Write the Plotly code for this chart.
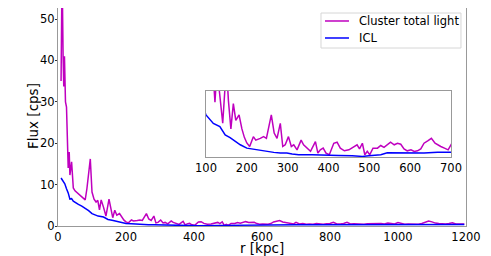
import plotly.graph_objects as go

# Cluster total light (magenta)
r_total = [9, 12, 15, 17, 19, 22, 25, 27, 30, 33, 35, 40, 45, 50, 60, 70, 80, 85, 90, 95,
           100, 106, 112, 117, 122, 127, 134, 141, 150, 155, 161, 167, 173, 181, 188, 194,
           200, 207, 216, 222, 233, 241, 248, 260, 267, 274, 282, 288, 294, 302, 309, 315,
           323, 333, 339, 348, 356, 368, 374, 380, 387, 394, 402, 413, 421, 429, 439, 450,
           462, 470, 476, 483, 489, 495, 501, 509, 520, 528, 536, 544, 552, 561, 569, 577,
           585, 593, 602, 610, 618, 626, 634, 643, 652, 661, 667, 675, 684, 693, 700,
           710, 720, 730, 740, 750, 760, 770, 780, 790, 800, 810, 820, 830, 840, 850, 860,
           870, 880, 890, 900, 910, 920, 930, 940, 950, 960, 970, 980, 990, 1000, 1010,
           1020, 1030, 1040, 1050, 1060, 1070, 1080, 1090, 1100, 1110, 1120, 1130, 1140,
           1150, 1160, 1170, 1180, 1195]
f_total = [35, 62, 41, 33.7, 41, 30, 28.7, 20.5, 14, 17.9, 12.3, 15.5, 9.2, 8.5, 7.8, 7.0, 6.3, 9, 13.5, 16.2,
           8.2, 6.5, 5.8, 6.2, 3.9, 6.3, 4.5, 2.4, 6.5, 4.0, 2.0, 3.8, 2.6, 3.0, 2.0, 1.4,
           1.0, 0.75, 1.45, 1.2, 1.33, 1.45, 1.33, 3.0, 1.7, 1.33, 2.4, 0.75, 0.87, 1.45, 0.75, 0.87,
           0.51, 1.2, 0.87, 0.63, 0.4, 1.1, 0.28, 0.51, 0.63, 0.28, 0.16, 0.98, 1.05, 0.63, 0.44, 0.51,
           0.75, 0.87, 0.58, 0.98, 0.16, 0.4, 0.16, 0.63, 0.63, 0.82, 0.68, 0.87, 1.05, 0.87, 0.98, 0.91,
           0.58, 0.44, 0.51, 0.4, 0.44, 0.58, 0.98, 1.15, 1.33, 0.98, 0.87, 0.75, 0.63, 0.51, 0.87,
           0.5, 0.6, 0.4, 0.5, 0.45, 0.6, 0.5, 0.4, 0.55, 0.6, 0.9, 0.5, 0.5, 0.6, 0.9, 0.5,
           0.55, 0.5, 0.6, 0.45, 0.55, 0.6, 0.5, 0.55, 0.6, 0.5, 0.7, 0.6, 0.5, 0.85, 0.6,
           0.45, 0.5, 0.5, 0.4, 0.45, 0.6, 1.0, 1.2, 1.0, 0.7, 0.6, 0.5, 0.5,
           0.6, 0.8, 0.5, 0.45, 0.5]

# ICL (blue)
r_icl = [9, 15, 20, 25, 30, 35, 40, 45, 50, 60, 70, 80, 90, 100, 118, 134, 147, 159, 171, 184,
         200, 216, 233, 249, 266, 282, 298, 311, 327, 360, 393, 409, 425, 458, 483, 499, 511,
         528, 544, 569, 602, 634, 667, 700, 750, 800, 850, 900, 950, 1000, 1050, 1100, 1150, 1195]
f_icl = [11.6, 10.8, 10.2, 9.0, 8.0, 6.5, 6.6, 6.0, 5.7, 5.2, 4.8, 4.3, 3.7, 3.0, 2.39, 2.16, 1.57, 1.38, 1.15, 0.87,
         0.63, 0.56, 0.44, 0.4, 0.33, 0.28, 0.28, 0.21, 0.16, 0.16, 0.11, 0.09, 0.11, 0.09, 0.04, 0.09, 0.14,
         0.16, 0.30, 0.30, 0.26, 0.28, 0.33, 0.33, 0.32, 0.33, 0.32, 0.33, 0.34, 0.33, 0.34, 0.35, 0.34, 0.35]

main_xticks = [0, 200, 400, 600, 800, 1000, 1200]
main_yticks = [0, 10, 20, 30, 40, 50]
inset_xticks = [100, 200, 300, 400, 500, 600, 700]
legend_labels = ["Cluster total light", "ICL"]

MAG = "#bf00bf"
BLUE = "#0000ff"
FONT = "DejaVu Sans"

fig = go.Figure()
fig.add_trace(go.Scatter(x=r_total, y=f_total, mode="lines", name=legend_labels[0],
                         line=dict(color=MAG, width=1.5), showlegend=False))
fig.add_trace(go.Scatter(x=r_icl, y=f_icl, mode="lines", name=legend_labels[1],
                         line=dict(color=BLUE, width=1.5), showlegend=False))
fig.add_trace(go.Scatter(x=r_total, y=f_total, mode="lines", showlegend=False,
                         line=dict(color=MAG, width=1.5), xaxis="x2", yaxis="y2"))
fig.add_trace(go.Scatter(x=r_icl, y=f_icl, mode="lines", showlegend=False,
                         line=dict(color=BLUE, width=1.5), xaxis="x2", yaxis="y2"))

axcol = "#999999"
common = dict(showgrid=False, zeroline=False, showline=True, linecolor=axcol, linewidth=1,
              mirror=True, automargin=False, tickfont=dict(size=11.5))

# legend drawn as a framed box with line samples and real text labels
shapes = [
    dict(type="rect", xref="paper", yref="paper", x0=0.6446, x1=0.9877, y0=0.8165, y1=0.977,
         line=dict(color="#d6d6d6", width=1), fillcolor="white", layer="above"),
    dict(type="line", xref="paper", yref="paper", x0=0.6544, x1=0.7132, y0=0.9404, y1=0.9404,
         line=dict(color=MAG, width=1.5), layer="above"),
    dict(type="line", xref="paper", yref="paper", x0=0.6544, x1=0.7132, y0=0.8624, y1=0.8624,
         line=dict(color=BLUE, width=1.5), layer="above"),
]
annotations = [
    dict(text=legend_labels[0], xref="paper", yref="paper", x=0.7328, y=0.9404,
         xanchor="left", yanchor="middle", showarrow=False, font=dict(size=11.5)),
    dict(text=legend_labels[1], xref="paper", yref="paper", x=0.7328, y=0.8624,
         xanchor="left", yanchor="middle", showarrow=False, font=dict(size=11.5)),
    dict(text="r [kpc]", xref="paper", yref="paper", x=0.5, y=-0.1032,
         xanchor="center", yanchor="middle", showarrow=False, font=dict(size=13.5)),
    dict(text="Flux [cps]", xref="paper", yref="paper", x=-0.0613, y=0.5046,
         xanchor="center", yanchor="middle", textangle=-90, showarrow=False,
         font=dict(size=13.5)),
]

fig.update_layout(
    width=483, height=248,
    margin=dict(l=50, r=25, t=0, b=30),
    paper_bgcolor="white", plot_bgcolor="white",
    font=dict(family=FONT, size=11.5, color="black"),
    xaxis=dict(range=[0, 1200], tickvals=main_xticks, ticks="", **common),
    yaxis=dict(range=[0, 52.66], tickvals=main_yticks, ticks="outside", ticklen=2,
               tickcolor="#333", ticklabelstandoff=-2, **common),
    xaxis2=dict(domain=[0.3627, 0.9632], anchor="y2", range=[100, 700], tickvals=inset_xticks,
                ticks="", **common),
    yaxis2=dict(domain=[0.3165, 0.6193], anchor="x2", range=[0, 4.7], showticklabels=False,
                ticks="", **common),
    showlegend=False,
    shapes=shapes,
    annotations=annotations,
)

fig.write_html("out.html")
